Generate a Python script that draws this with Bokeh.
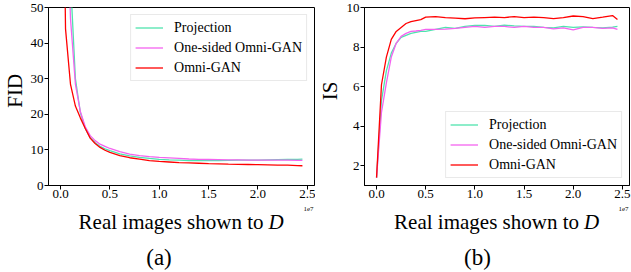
import math
from bokeh.plotting import figure
from bokeh.models import Label, FixedTicker, CustomJSTickFormatter, Range1d
from bokeh.layouts import row, column
from bokeh.embed import file_html
from bokeh.resources import INLINE

# ---------------- data ----------------
SERIES = ["Projection", "One-sided Omni-GAN", "Omni-GAN"]
COLORS = ["#4fe3ae", "#f463f0", "#ff0000"]

# real images shown to D
STEPS = [0, 5e5, 1e6, 1.5e6, 2e6, 2.5e6, 3e6, 3.5e6, 4e6, 4.5e6, 5e6,
         6e6, 7e6, 8e6, 9e6, 1e7, 1.1e7, 1.2e7, 1.3e7, 1.4e7, 1.5e7,
         1.6e7, 1.7e7, 1.8e7, 1.9e7, 2e7, 2.1e7, 2.2e7, 2.3e7, 2.4e7, 2.45e7]

FID_PROJ = [300, 110, 58, 30, 20.5, 16.0, 13.4, 12.0, 11.0, 10.3, 9.8,
            8.9, 8.3, 7.9, 7.6, 7.35, 7.2, 7.1, 7.0, 7.0, 7.0,
            7.0, 7.05, 7.1, 7.1, 7.15, 7.2, 7.25, 7.3, 7.35, 7.4]
FID_ONESIDED = [300, 90, 47, 28.5, 20.8, 16.5, 14.0, 12.6, 11.6, 11.0, 10.4,
                9.5, 8.8, 8.4, 8.1, 7.9, 7.75, 7.6, 7.45, 7.35, 7.3,
                7.25, 7.2, 7.2, 7.15, 7.15, 7.1, 7.1, 7.1, 7.05, 7.05]
FID_OMNI = [150, 44, 28.5, 22.3, 19.0, 16.0, 13.3, 11.8, 10.7, 9.9, 9.3,
            8.4, 7.8, 7.4, 7.0, 6.75, 6.6, 6.45, 6.35, 6.25, 6.15,
            6.1, 6.0, 5.95, 5.9, 5.85, 5.8, 5.75, 5.7, 5.6, 5.55]

IS_PROJ = [1.4, 5.3, 6.8, 7.7, 8.2, 8.5, 8.6, 8.7, 8.75, 8.8, 8.8,
           8.9, 9.0, 8.95, 9.05, 9.1, 9.1, 9.05, 9.12, 9.08, 9.05,
           9.05, 9.0, 8.98, 9.05, 9.0, 9.03, 9.0, 8.98, 9.02, 9.05]
IS_ONESIDED = [1.4, 4.7, 6.2, 7.5, 8.2, 8.55, 8.7, 8.8, 8.82, 8.85, 8.9,
               8.9, 8.92, 8.95, 9.0, 9.05, 9.0, 9.05, 9.05, 9.0, 9.05,
               9.0, 9.0, 8.93, 8.98, 8.88, 9.0, 9.0, 8.95, 8.98, 8.9]
IS_OMNI = [1.4, 6.1, 7.5, 8.4, 8.8, 9.0, 9.2, 9.3, 9.35, 9.4, 9.52,
           9.55, 9.5, 9.47, 9.44, 9.48, 9.5, 9.52, 9.5, 9.55, 9.5,
           9.52, 9.5, 9.45, 9.5, 9.58, 9.55, 9.45, 9.52, 9.6, 9.4]

X_TICKS = [0, 5e6, 1e7, 1.5e7, 2e7, 2.5e7]
FID_TICKS = [0, 10, 20, 30, 40, 50]
IS_TICKS = [2, 4, 6, 8, 10]
X_LABEL = "Real images shown to"
X_LABEL_VAR = "D"

FONT = "Liberation Serif"
FRAME_H = 178
TOP_B = 7
BOT_B = 20
TOP_H = TOP_B + FRAME_H + BOT_B
CAP_H = 272 - TOP_H


def blank(w, h):
    c = figure(width=w, height=h, x_range=Range1d(0, w),
               y_range=Range1d(h, 0), min_border=0,
               x_axis_type=None, y_axis_type=None,
               output_backend="svg", toolbar_location=None)
    c.outline_line_color = None
    c.xgrid.visible = False
    c.ygrid.visible = False
    c.background_fill_color = "white"
    c.border_fill_color = "white"
    return c


def text(c, x, y, t, size, align="center", baseline="middle", style="normal",
         angle=0.0):
    c.add_layout(Label(x=x, y=y, text=t, text_font=FONT, text_font_size=size,
                       text_align=align, text_baseline=baseline, angle=angle,
                       text_font_style=style, text_color="black"))


def make_panel(series, yr, yticks, fw, bl, br, legend_loc):
    p = figure(frame_width=fw, frame_height=FRAME_H,
               min_border_left=bl, min_border_right=br,
               min_border_top=TOP_B, min_border_bottom=BOT_B,
               x_range=Range1d(-1.225e6, 2.5725e7), y_range=Range1d(*yr),
               output_backend="svg", toolbar_location=None)
    p.background_fill_color = "white"
    p.border_fill_color = "white"
    p.outline_line_color = "black"
    p.outline_line_width = 1
    p.xgrid.visible = False
    p.ygrid.visible = False
    for ax in (p.xaxis, p.yaxis):
        ax.axis_line_color = "black"
        ax.major_tick_in = 0
        ax.major_tick_out = 4
        ax.minor_tick_line_color = None
        ax.major_label_text_font = FONT
        ax.major_label_text_font_size = "13px"
        ax.major_label_text_color = "black"
    p.xaxis.major_label_standoff = 0
    p.yaxis.major_label_standoff = 1
    p.xaxis.ticker = FixedTicker(ticks=X_TICKS)
    p.xaxis.formatter = CustomJSTickFormatter(code="return (tick/1e7).toFixed(1);")
    p.yaxis.ticker = FixedTicker(ticks=yticks)

    for name, col, ys in zip(SERIES, COLORS, series):
        p.line(STEPS, ys, color=col, line_width=1.3, legend_label=name)

    lg = p.legend[0]
    lg.location = legend_loc
    lg.margin = 7
    lg.padding = 4
    lg.spacing = 3
    lg.label_height = 17
    lg.glyph_height = 17
    lg.glyph_width = 28
    lg.label_standoff = 11
    lg.label_text_font = FONT
    lg.label_text_font_size = "14px"
    lg.label_text_color = "black"
    lg.border_line_color = "#d4d4d4"
    lg.border_line_width = 1
    lg.background_fill_alpha = 0.85
    return p


def make_ylabel(w, t, cx):
    c = blank(w, TOP_H)
    text(c, cx, TOP_B + FRAME_H / 2, t, "21px", angle=math.pi / 2)
    return c


def make_caption(w, label_center, offset_right, tag, tag_x):
    c = blank(w, CAP_H)
    total = 205.0
    d_w = 15.0
    x0 = label_center + total / 2 - d_w
    text(c, x0 - 5, 16.5, X_LABEL, "21px", align="right", baseline="alphabetic")
    text(c, x0, 16.5, X_LABEL_VAR, "21px", align="left", baseline="alphabetic",
         style="italic")
    text(c, offset_right, 3.5, "1e7", "7px", align="right")
    text(c, tag_x, 51.5, tag, "23px")
    return c


yl1 = make_ylabel(26, "FID", 14)
p1 = make_panel([FID_PROJ, FID_ONESIDED, FID_OMNI], (0, 50), FID_TICKS,
                266, 22, 1, "top_right")
yl2 = make_ylabel(27, "IS", 14)
p2 = make_panel([IS_PROJ, IS_ONESIDED, IS_OMNI], (1.0, 10.01), IS_TICKS,
                265, 22, 2, "bottom_right")

c1 = make_caption(315, 180.5, 313, "(a)", 158.5)
c2 = make_caption(316, 181, 313, "(b)", 162)

p = column(row(yl1, p1, yl2, p2), row(c1, c2))
open("out.html", "w").write(file_html(p, INLINE))
